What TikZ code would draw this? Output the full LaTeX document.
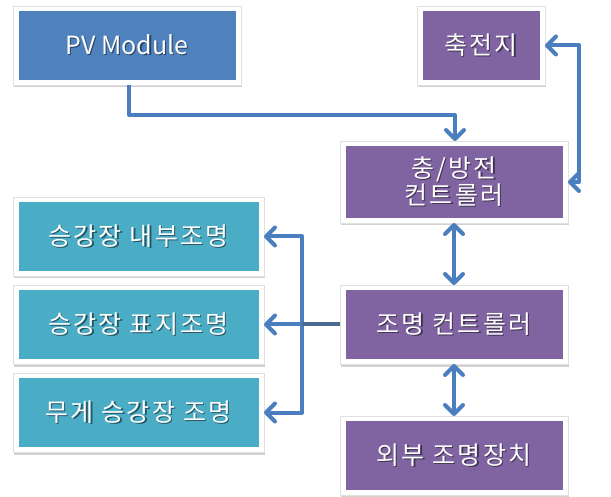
\documentclass[tikz,border=0pt]{standalone}
\usepackage{fontspec}
\setmainfont{Noto Sans CJK KR}
\newfontfamily\krfont[LetterSpace=9]{Noto Sans CJK KR}
\usetikzlibrary{arrows.meta,shadows,calc}
\definecolor{pvblue}{HTML}{4F81BD}
\definecolor{purp}{HTML}{8064A2}
\definecolor{tealc}{HTML}{4BACC6}
\definecolor{arr}{HTML}{4A7EBF}
\definecolor{arrdark}{HTML}{4A6A92}
\newcommand\sh[1]{\leavevmode\rlap{\kern1.3pt\raisebox{-1.3pt}{\color{shc}#1}}#1}
\tikzset{
  box/.style={fill=white, draw=black!12, line width=0.6pt, inner sep=0pt, outer sep=0pt, align=center,
    text=white, font=\fontsize{25}{27}\selectfont,
    drop shadow={shadow xshift=1.2pt, shadow yshift=-2.5pt, opacity=0.3, fill=black!60},
    execute at begin node={\colorlet{shc}{#1!50!black}},
    path picture={\fill[#1] ([shift={(5.5pt,5pt)}]path picture bounding box.south west)
      rectangle ([shift={(-5pt,-5pt)}]path picture bounding box.north east);}},
  kr/.style={font=\fontsize{25}{27}\selectfont\krfont},
  conn/.style={draw=arr, line width=4pt, line join=round},
  tip/.tip={Straight Barb[length=9pt,width=18pt,round]},
}
\begin{document}
\begin{tikzpicture}[x=1pt,y=-1pt]
\useasboundingbox (0,0) rectangle (611,497);
\node[box=pvblue, minimum width=228pt, minimum height=79pt] (pv) at (127,45.5) {\sh{PV Module}};
\node[box=purp, kr, minimum width=128pt, minimum height=79pt] (bat) at (481,45.5) {\sh{축전지}};
\node[box=purp, kr, minimum width=228pt, minimum height=82pt] (chg) at (454,182) {\sh{충/방전}\\\sh{컨트롤러}};
\node[box=tealc, kr, minimum width=251pt, minimum height=79pt] (l1) at (138.5,236.5) {\sh{승강장 내부조명}};
\node[box=tealc, kr, minimum width=251pt, minimum height=79pt] (l2) at (138.5,324.5) {\sh{승강장 표지조명}};
\node[box=tealc, kr, minimum width=251pt, minimum height=79pt] (l3) at (138.5,412.5) {\sh{무게 승강장 조명}};
\node[box=purp, kr, minimum width=228pt, minimum height=79pt] (lc) at (454,324.5) {\sh{조명 컨트롤러}};
\node[box=purp, kr, minimum width=228pt, minimum height=79pt] (ext) at (454,455.5) {\sh{외부 조명장치}};
\coordinate (k1) at (129,115);
\coordinate (k2) at (455,115);
\coordinate (rv) at (579,46);
\coordinate (jx) at (302,324.5);
\draw[conn,-{tip}] (pv.south -| k1) -- (k1) -- (k2) -- (chg.north -| k2);
\draw[conn,{tip}-{tip}] (bat.east) -| (rv) |- (chg.east);
\draw[conn,{tip}-{tip}] (chg.south) -- (lc.north);
\draw[conn,{tip}-{tip}] (lc.south) -- (ext.north);
\draw[conn,{tip}-{tip}] (l1.east) -| (jx) |- (l3.east);
\draw[conn,-{tip}] (lc.west) -- (l2.east);
\draw[conn,draw=arrdark] (lc.west) -- (jx);
\end{tikzpicture}
\end{document}
